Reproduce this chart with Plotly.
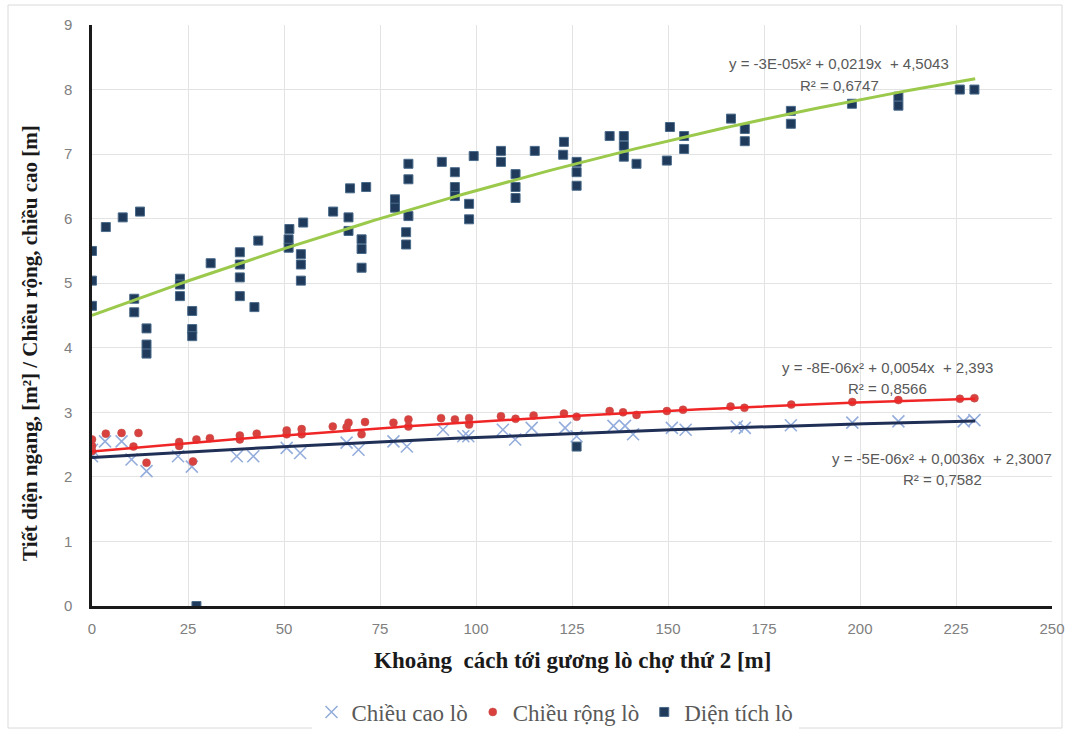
import numpy as np
import plotly.graph_objects as go

# ---------------- data ----------------
height_x = [0, 0, 3.4, 7.7, 10.3, 14.2, 22.4, 26, 37.7, 42, 50.7, 54.2, 66.3, 69.4, 78.5, 82,
            91.4, 96.7, 98, 107, 110.2, 114.5, 123.2, 126.2, 135.8, 138.8, 140.9, 151, 154.6,
            167.9, 170, 182, 198, 210, 227, 229.8]
height_y = [2.42, 2.32, 2.55, 2.55, 2.27, 2.09, 2.32, 2.16, 2.32, 2.32, 2.45, 2.37, 2.53, 2.42, 2.55, 2.47,
            2.73, 2.63, 2.63, 2.73, 2.58, 2.76, 2.76, 2.63, 2.79, 2.79, 2.66, 2.76, 2.73,
            2.78, 2.76, 2.8, 2.84, 2.86, 2.86, 2.88]

width_x = [0, 0, 0, 3.6, 7.7, 12.1, 10.8, 14.2, 22.7, 22.7, 26.3, 27.2, 30.7, 38.5, 38.5, 42.9,
           50.7, 50.7, 54.6, 54.6, 62.7, 66.3, 66.8, 71.1, 70.2, 78.5, 82.4, 82.4, 90.9, 94.5,
           98.2, 98.2, 106.5, 110.3, 115, 122.9, 126.2, 134.8, 138.3, 141.8, 149.7, 153.9,
           166.3, 169.9, 182.1, 198, 210, 226, 229.8]
width_y = [2.58, 2.48, 2.4, 2.67, 2.68, 2.68, 2.47, 2.22, 2.54, 2.48, 2.24, 2.58, 2.6, 2.64, 2.58, 2.67,
           2.72, 2.66, 2.74, 2.66, 2.78, 2.77, 2.84, 2.85, 2.66, 2.84, 2.89, 2.78, 2.91, 2.89,
           2.91, 2.81, 2.94, 2.9, 2.95, 2.98, 2.93, 3.02, 3.0, 2.96, 3.02, 3.04,
           3.09, 3.07, 3.12, 3.16, 3.19, 3.21, 3.22]

area_x = [0, 0, 0, 3.6, 8.0, 12.5, 11, 11, 14.2, 14.2, 14.2, 22.9, 22.9, 22.9, 26.1, 26.1, 26.1,
          27.2, 30.9, 38.5, 38.5, 38.5, 38.5, 42.3, 43.3, 51.4, 51.2, 51.2, 55, 54.4, 54.4, 54.4,
          62.8, 66.8, 66.8, 67.2, 71.4, 70.2, 70.2, 70.2, 78.9, 78.9, 82.4, 82.4, 82.4, 81.8, 81.8,
          91.1, 94.5, 94.5, 94.5, 98.2, 98.2, 99.4, 106.5, 106.5, 110.3, 110.3, 110.3, 115.3,
          122.9, 122.7, 126.2, 126.2, 126.2, 126.2, 134.8, 138.5, 138.5, 138.5, 141.8, 149.7,
          150.5, 154.2, 154.2, 166.4, 170, 170, 182, 182, 197.9, 210, 210, 226, 229.8]
area_y = [5.5, 5.04, 4.65, 5.87, 6.02, 6.11, 4.76, 4.55, 4.3, 4.05, 3.91, 5.07, 4.98, 4.8, 4.57, 4.29, 4.18,
          0, 5.31, 5.48, 5.29, 5.09, 4.8, 4.63, 5.66, 5.84, 5.68, 5.55, 5.94, 5.45, 5.29, 5.04,
          6.11, 6.02, 5.81, 6.47, 6.49, 5.68, 5.53, 5.24, 6.3, 6.17, 6.85, 6.61, 6.04, 5.79, 5.6,
          6.88, 6.72, 6.49, 6.35, 6.23, 5.99, 6.97, 7.05, 6.88, 6.69, 6.49, 6.32, 7.05,
          7.19, 6.99, 6.88, 6.72, 6.51, 2.47, 7.28, 7.28, 7.13, 6.96, 6.85, 6.9,
          7.42, 7.28, 7.08, 7.55, 7.39, 7.2, 7.67, 7.47, 7.78, 7.89, 7.75, 8.0, 8.0]

# polynomial trend coefficients [a2, a1, a0]
height_fit = [-5e-06, 0.0036, 2.3007]
width_fit = [-8e-06, 0.0054, 2.393]
area_fit = [-2.6e-05, 0.0219, 4.5043]
trend_range = [0, 230]

series_names = ["Chiều cao lò", "Chiều rộng lò", "Diện tích lò"]
eq_texts = {
    "area": ("y = -3E-05x² + 0,0219x  + 4,5043", "R² = 0,6747"),
    "width": ("y = -8E-06x² + 0,0054x  + 2,393", "R² = 0,8566"),
    "height": ("y = -5E-06x² + 0,0036x  + 2,3007", "R² = 0,7582"),
}

# ---------------- figure ----------------
xt = np.linspace(trend_range[0], trend_range[1], 120)

fig = go.Figure()

fig.add_trace(go.Scatter(
    x=height_x, y=height_y, mode="markers", name=series_names[0],
    marker=dict(symbol="x-thin-open", size=12, color="#94ADDC",
                line=dict(color="#94ADDC", width=1.6)),
))
fig.add_trace(go.Scatter(
    x=width_x, y=width_y, mode="markers", name=series_names[1],
    marker=dict(symbol="circle", size=8, color="#D9413F",
                line=dict(color="#C0504D", width=0.5)),
))
fig.add_trace(go.Scatter(
    x=area_x, y=area_y, mode="markers", name=series_names[2],
    marker=dict(symbol="square", size=9, color="#1F3A5A",
                line=dict(color="#4A6A8A", width=1)),
))

# trend lines
fig.add_trace(go.Scatter(x=xt, y=np.polyval(area_fit, xt), mode="lines",
                         line=dict(color="#9BC94B", width=3), showlegend=False, hoverinfo="skip"))
fig.add_trace(go.Scatter(x=xt, y=np.polyval(width_fit, xt), mode="lines",
                         line=dict(color="#F02525", width=2.5), showlegend=False, hoverinfo="skip"))
fig.add_trace(go.Scatter(x=xt, y=np.polyval(height_fit, xt), mode="lines",
                         line=dict(color="#1F2F55", width=3), showlegend=False, hoverinfo="skip"))

ann_font = dict(family="Liberation Sans Narrow, Arial Narrow, Liberation Sans", size=15, color="#595959")
annotations = []
eq_pos = {
    "area": ((839, 63), (839, 85)),
    "width": ((887, 367), (887, 388)),
    "height": ((942, 458), (942, 479)),
}
L, R, T, B = 92, 1052, 25, 606
def px2x(px):
    return (px - L) / (R - L) * 250
def py2y(py):
    return (B - py) / (B - T) * 9
for key, (p1, p2) in eq_pos.items():
    t1, t2 = eq_texts[key]
    annotations.append(dict(x=px2x(p1[0]), y=py2y(p1[1]), text=t1, showarrow=False,
                            xref="x", yref="y", font=ann_font))
    annotations.append(dict(x=px2x(p2[0]), y=py2y(p2[1]), text=t2, showarrow=False,
                            xref="x", yref="y", font=ann_font))

serif = "Liberation Serif, Times New Roman, serif"
annotations.append(dict(x=(572 - L) / (R - L), xref="paper", y=(B - 660) / (B - T), yref="paper",
                        text="<b>Khoảng  cách tới gương lò chợ thứ 2 [m]</b>", showarrow=False,
                        font=dict(family=serif, size=23, color="#1a1a1a"), yanchor="middle"))
annotations.append(dict(x=(30 - L) / (R - L), xref="paper", y=(B - 343) / (B - T), yref="paper",
                        text="<b>Tiết diện ngang, [m²] / Chiều rộng, chiều cao [m]</b>",
                        showarrow=False, textangle=-90,
                        font=dict(family=serif, size=21, color="#1a1a1a"),
                        xanchor="center", yanchor="middle"))

tick_font = dict(family="Liberation Sans, Arial", size=15, color="#808080")

fig.update_layout(
    width=1065, height=731,
    margin=dict(l=L, r=1065 - R, t=T, b=731 - B, autoexpand=False),
    paper_bgcolor="white", plot_bgcolor="white",
    showlegend=True,
    legend=dict(orientation="h", x=(555 - L) / (R - L), xanchor="center", y=(B - 712) / (B - T), yanchor="middle",
                font=dict(family=serif, size=23, color="#595959"),
                itemwidth=30, tracegroupgap=0),
    annotations=annotations,
    xaxis=dict(range=[0, 250], tickvals=list(range(0, 251, 25)), showgrid=True,
               gridcolor="#E3E3E3", gridwidth=1, zeroline=False,
               showline=True, linecolor="#1a1a1a", linewidth=2.5,
               tickfont=tick_font, ticks="outside", ticklen=7, tickcolor="rgba(0,0,0,0)"),
    yaxis=dict(range=[0, 9], tickvals=list(range(0, 10)), showgrid=True,
               gridcolor="#E3E3E3", gridwidth=1, zeroline=False,
               showline=True, linecolor="#1a1a1a", linewidth=2.5,
               tickfont=tick_font, ticks="outside", ticklen=14, tickcolor="rgba(0,0,0,0)"),
    shapes=[dict(type="rect", xref="paper", yref="paper",
                 x0=(8 - L) / (R - L), x1=(1062 - L) / (R - L),
                 y0=(B - 728) / (B - T), y1=(B - 5) / (B - T),
                 line=dict(color="#DADADA", width=1), fillcolor="rgba(0,0,0,0)", layer="below")],
)

fig.write_html("out.html", config={"displayModeBar": False},
               post_script="document.body.style.margin='0px';")
